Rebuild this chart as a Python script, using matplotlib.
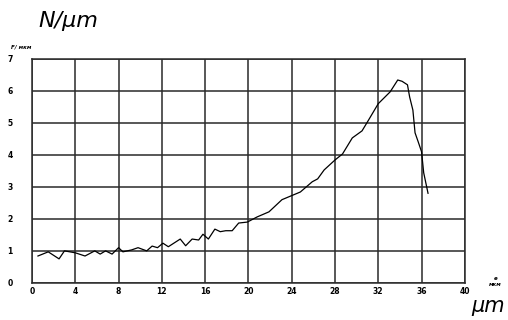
import matplotlib
matplotlib.use("Agg")
import matplotlib.pyplot as plt

# данные кривой: перемещение (мкм) и сила (Н/мкм)
x_values = [0.55, 1.5, 2.5, 3.0, 4.0, 4.9, 5.8, 6.3, 6.8, 7.4, 8.0, 8.4, 9.2, 9.8,
            10.6, 11.1, 11.6, 12.1, 12.6, 13.7, 14.2, 14.8, 15.4, 15.8, 16.3, 16.9,
            17.4, 17.9, 18.5, 19.1, 19.9, 20.8, 21.9, 23.1, 24.8, 25.9, 26.4, 27.0,
            28.0, 28.7, 29.6, 30.5, 31.0, 32.0, 33.1, 33.8, 34.2, 34.7, 34.9, 35.2,
            35.4, 35.7, 36.0, 36.2, 36.6]
y_values = [0.84, 0.97, 0.75, 1.0, 0.94, 0.84, 1.0, 0.9, 1.0, 0.9, 1.1, 0.97, 1.03, 1.1,
            1.0, 1.15, 1.1, 1.24, 1.13, 1.37, 1.16, 1.37, 1.34, 1.52, 1.37, 1.68,
            1.6, 1.63, 1.63, 1.87, 1.9, 2.06, 2.22, 2.6, 2.84, 3.16, 3.25, 3.53,
            3.84, 4.03, 4.53, 4.75, 5.03, 5.6, 5.97, 6.34, 6.3, 6.19, 5.81, 5.4,
            4.69, 4.4, 4.1, 3.44, 2.8]

x_ticks = [0, 4, 8, 12, 16, 20, 24, 28, 32, 36, 40]
y_ticks = [0, 1, 2, 3, 4, 5, 6, 7]

fig = plt.figure(figsize=(5.08, 3.2), dpi=100)
ax = fig.add_axes([0.063, 0.116, 0.852, 0.7])

ax.plot(x_values, y_values, color="black", linewidth=0.9)

ax.set_xlim(0, 40)
ax.set_ylim(0, 7)
ax.set_xticks(x_ticks)
ax.set_yticks(y_ticks)
ax.grid(True, color="#2a2a2a", linewidth=1.1)
for s in ax.spines.values():
    s.set_linewidth(1.1)
    s.set_color("#2a2a2a")
ax.tick_params(length=0, labelsize=5.5)
ax.set_xticklabels([str(t) for t in x_ticks], fontweight="bold")
ax.set_yticklabels([str(t) for t in y_ticks], fontweight="bold")
ax.tick_params(axis="y", pad=14)
ax.tick_params(axis="x", pad=3)

fig.text(0.075, 0.935, "N/μm", fontsize=16, style="italic", ha="left", va="center")
fig.text(0.022, 0.852, "F/ мкм", fontsize=4, style="italic", fontweight="bold",
         ha="left", va="center")
fig.text(0.975, 0.12, "e\nмкм", fontsize=4, style="italic", fontweight="bold",
         ha="center", va="center", linespacing=1.2)
fig.text(0.96, 0.045, "μm", fontsize=15, style="italic", ha="center", va="center")

fig.savefig("out.png", dpi=100)
